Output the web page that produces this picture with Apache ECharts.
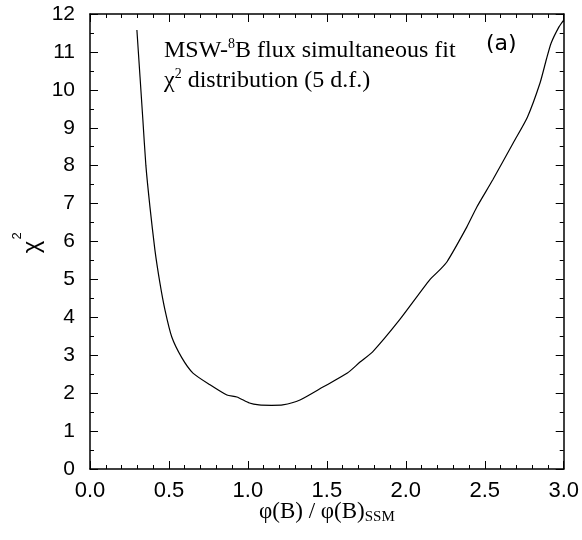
<!DOCTYPE html>
<html>
<head>
<meta charset="utf-8">
<script src="https://cdn.jsdelivr.net/npm/echarts@6/dist/echarts.min.js"></script>
<style>html,body{margin:0;padding:0;background:#fff;}#c{width:582px;height:540px;}</style>
</head>
<body>
<div id="c"></div>
<script>
const fluxRatio = [0.297,0.335,0.354,0.38,0.411,0.443,0.475,0.518,0.582,0.652,0.76,0.867,0.93,1.01,1.07,1.15,1.22,1.33,1.475,1.63,1.71,1.79,1.96,2.15,2.215,2.26,2.386,2.45,2.55,2.68,2.77,2.85,2.89,2.92,2.97,3.0];
const chi2 = [11.58,9.2,8.0,6.9,5.78,4.9,4.19,3.48,2.93,2.53,2.22,1.95,1.9,1.74,1.69,1.68,1.69,1.82,2.16,2.53,2.82,3.09,3.93,4.98,5.25,5.46,6.38,6.91,7.62,8.6,9.28,10.18,10.8,11.23,11.66,11.84];
const xTicks = {min:0, max:3, step:0.5};
const yTicks = {min:0, max:12, step:1};

const chart = echarts.init(document.getElementById('c'));
const lineCfg = {show:true, onZero:false, lineStyle:{color:'#000', width:1.5}};
const tickCfg = {show:true, inside:true, length:8, lineStyle:{color:'#000', width:1}};
function minor(n){ return {show:true, splitNumber:n, length:4, lineStyle:{color:'#000', width:1}}; }
chart.setOption({
  animation:false,
  backgroundColor:'#fff',
  grid:{left:90, right:18, top:14, bottom:71},
  xAxis:[
    {type:'value', min:xTicks.min, max:xTicks.max, interval:xTicks.step, position:'bottom',
      axisLine:lineCfg, axisTick:tickCfg, minorTick:minor(5), splitLine:{show:false},
      axisLabel:{margin:11, color:'#000', fontFamily:'Liberation Sans', fontSize:22, formatter:v=>v.toFixed(1)},
      name:'{a|φ(B) / φ(B)}{s|SSM}', nameLocation:'middle', nameGap:29, nameMoveOverlap:false,
      nameTextStyle:{rich:{a:{fontFamily:'Liberation Serif', fontSize:23, color:'#000'}, s:{fontFamily:'Liberation Serif', fontSize:15, color:'#000', padding:[12,0,0,0]}}}
    },
    {type:'value', min:xTicks.min, max:xTicks.max, interval:xTicks.step, position:'top',
      axisLine:lineCfg, axisTick:tickCfg, minorTick:minor(5), splitLine:{show:false},
      axisLabel:{show:false}
    }
  ],
  yAxis:[
    {type:'value', min:yTicks.min, max:yTicks.max, interval:yTicks.step, position:'left',
      axisLine:lineCfg, axisTick:tickCfg, minorTick:minor(2), splitLine:{show:false},
      axisLabel:{margin:15, color:'#000', fontFamily:'Liberation Sans', fontSize:21}
    },
    {type:'value', min:yTicks.min, max:yTicks.max, interval:yTicks.step, position:'right',
      axisLine:lineCfg, axisTick:tickCfg, minorTick:minor(2), splitLine:{show:false},
      axisLabel:{show:false}
    }
  ],
  graphic:[
    {type:'text', x:32, y:247, rotation:Math.PI/2,
      style:{text:'χ', align:'center', verticalAlign:'middle', fontFamily:'Liberation Sans', fontSize:24, fill:'#000'}},
    {type:'text', x:17, y:236, rotation:Math.PI/2,
      style:{text:'2', align:'center', verticalAlign:'middle', fontFamily:'Liberation Sans', fontSize:13, fill:'#000'}},
    {type:'text', left:164, top:37, style:{text:'{a|MSW-}{s|8}{a|B flux simultaneous fit}', rich:{a:{fontFamily:'Liberation Serif', fontSize:24, fill:'#000'}, s:{fontFamily:'Liberation Serif', fontSize:14, fill:'#000', padding:[0,0,14,0]}}}},
    {type:'text', left:164, top:67, style:{text:'{a|χ}{s|2}{a| distribution (5 d.f.)}', rich:{a:{fontFamily:'Liberation Serif', fontSize:24, fill:'#000'}, s:{fontFamily:'Liberation Serif', fontSize:14, fill:'#000', padding:[0,0,14,0]}}}},
    {type:'text', left:486, top:33, style:{text:'(a)', fontFamily:'DejaVu Sans', fontSize:22, fill:'#000'}}
  ],
  series:[{
    type:'line', showSymbol:false, symbol:'none', smooth:0.2,
    xAxisIndex:0, yAxisIndex:0,
    lineStyle:{color:'#000', width:1.2},
    data:fluxRatio.map((x,i)=>[x, chi2[i]])
  }]
});
</script>
</body>
</html>
